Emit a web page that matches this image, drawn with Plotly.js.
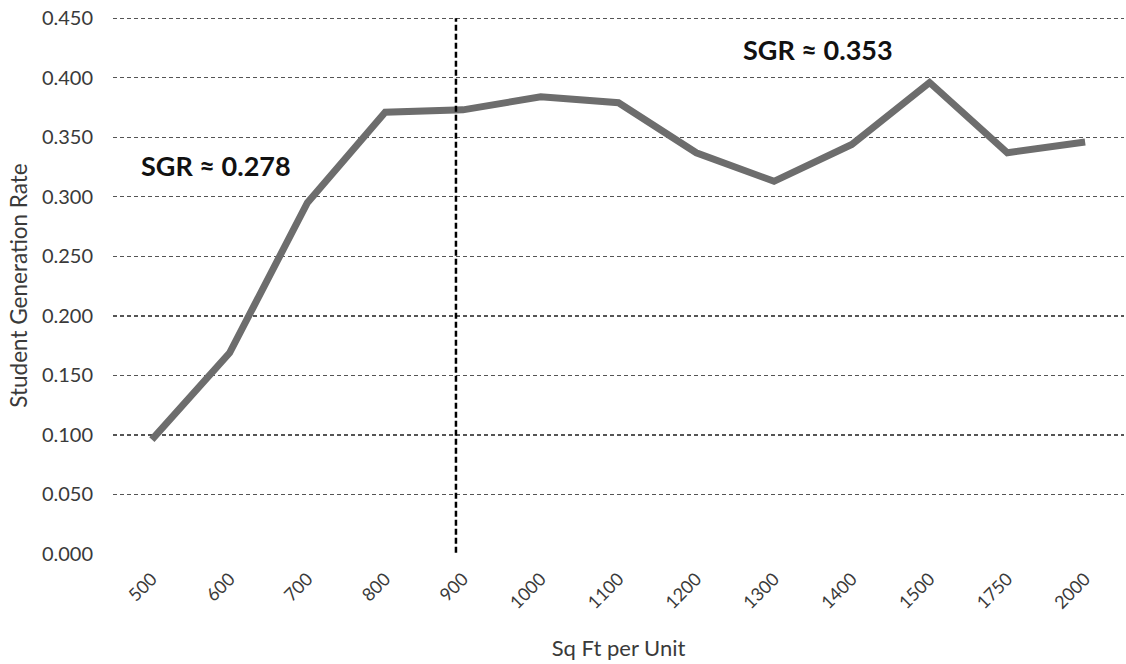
<!DOCTYPE html>
<html>
<head>
<meta charset="utf-8">
<script src="https://cdn.plot.ly/plotly-3.0.1.min.js"></script>
<style>html,body{margin:0;padding:0;background:#fff;}#chart{width:1126px;height:664px;}</style>
</head>
<body>
<div id="chart"></div>
<script>
const sqFt = ['500','600','700','800','900','1000','1100','1200','1300','1400','1500','1750','2000'];
const sgr = [0.096, 0.169, 0.295, 0.371, 0.373, 0.384, 0.379, 0.337, 0.313, 0.344, 0.396, 0.337, 0.346];
const yTicks = [0, 0.05, 0.1, 0.15, 0.2, 0.25, 0.3, 0.35, 0.4, 0.45];
const dividerPos = 3.91;
const labelLow = 'SGR ≈ 0.278';
const labelHigh = 'SGR ≈ 0.353';

const font = 'Lato, "Open Sans", sans-serif';
const trace = {
  x: sqFt, y: sgr, type: 'scatter', mode: 'lines',
  line: {color: '#6d6d6d', width: 7},
  hoverinfo: 'x+y'
};
const layout = {
  width: 1126, height: 664,
  margin: {l: 113, r: 2, t: 17, b: 110},
  paper_bgcolor: '#fff', plot_bgcolor: '#fff',
  showlegend: false,
  font: {family: font, color: '#3a3a3a', size: 18},
  xaxis: {
    type: 'category', range: [-0.5, 12.5],
    tickangle: -45, showgrid: false, zeroline: false, showline: false,
    ticks: '', ticklabelstandoff: 10, tickfont: {size: 18, color: '#3a3a3a'},
    title: {text: 'Sq Ft per Unit', font: {size: 22, color: '#3a3a3a'}, standoff: 28}
  },
  yaxis: {
    range: [0, 0.451], tickvals: yTicks, tickformat: '.3f',
    showgrid: true, gridcolor: '#555', griddash: '4px,3px', gridwidth: 1.3,
    zeroline: true, zerolinecolor: '#fff', zerolinewidth: 2,
    showline: false, ticks: '', ticklabelstandoff: 19,
    tickfont: {size: 20, color: '#3a3a3a'},
    title: {text: 'Student Generation Rate', font: {size: 22.5, color: '#3a3a3a'}, standoff: 8}
  },
  shapes: [{
    type: 'line', xref: 'x', yref: 'y', x0: dividerPos, x1: dividerPos, y0: 0.001, y1: 0.45,
    line: {color: '#000', width: 2.5, dash: '6px,3px'}
  }],
  annotations: [
    {xref: 'paper', yref: 'y', x: 0.102, y: 0.3267, xanchor: 'center', yanchor: 'middle',
     text: '<b>' + labelLow + '</b>', showarrow: false,
     font: {size: 27, color: '#111', family: font}},
    {xref: 'paper', yref: 'y', x: 0.697, y: 0.4233, xanchor: 'center', yanchor: 'middle',
     text: '<b>' + labelHigh + '</b>', showarrow: false,
     font: {size: 27, color: '#111', family: font}}
  ]
};
Plotly.newPlot('chart', [trace], layout, {displayModeBar: false, staticPlot: true});
</script>
</body>
</html>
